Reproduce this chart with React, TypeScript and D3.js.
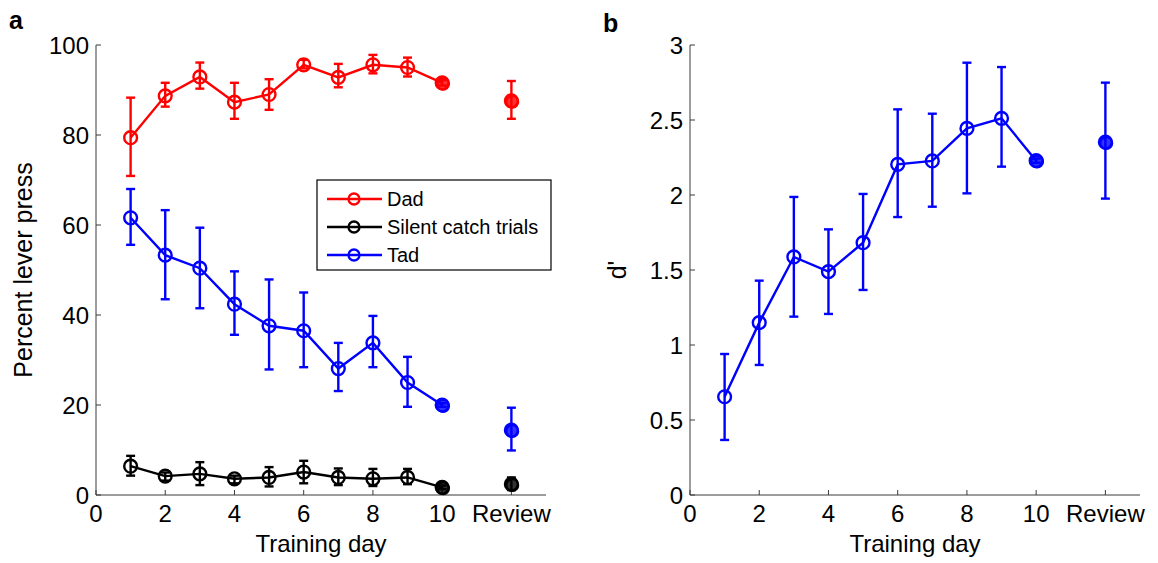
import React from "react";
import * as d3 from "d3";

// ---- data ----
const days = [1, 2, 3, 4, 5, 6, 7, 8, 9, 10];
const reviewX = 12;
const xTicks = [0, 2, 4, 6, 8, 10, 12];
const xTickLabels = ["0", "2", "4", "6", "8", "10", "Review"];
const leftYTicks = [0, 20, 40, 60, 80, 100];
const rightYTicks = [0, 0.5, 1, 1.5, 2, 2.5, 3];
const rightYTickLabels = ["0", "0.5", "1", "1.5", "2", "2.5", "3"];

// Panel a
const dadMean = [79.4, 88.7, 92.9, 87.3, 89.0, 95.6, 92.8, 95.6, 95.0, 91.6];
const dadLo = [70.9, 86.3, 90.3, 83.6, 85.6, 94.8, 90.6, 93.7, 93.0, 91.0];
const dadHi = [88.3, 91.6, 96.1, 91.6, 92.4, 96.7, 95.8, 97.8, 97.2, 92.2];
const dadReview = [87.6, 83.6, 92.0]; // mean, lo, hi

const silentMean = [6.4, 4.2, 4.7, 3.6, 3.9, 5.1, 3.9, 3.6, 3.9, 1.7];
const silentLo = [4.3, 3.2, 2.2, 2.6, 1.9, 2.6, 2.2, 2.0, 2.4, 1.3];
const silentHi = [8.7, 5.0, 7.3, 4.3, 6.2, 7.6, 5.9, 5.8, 5.8, 2.1];
const silentReview = [2.4, 1.1, 3.9];

const tadMean = [61.6, 53.3, 50.4, 42.4, 37.6, 36.5, 28.1, 33.8, 25.0, 20.0];
const tadLo = [55.6, 43.5, 41.5, 35.6, 27.9, 28.4, 23.1, 28.4, 19.6, 19.6];
const tadHi = [68.0, 63.3, 59.4, 49.7, 47.9, 45.0, 33.8, 39.8, 30.7, 20.4];
const tadReview = [14.4, 9.9, 19.4];

// Panel b
const dMean = [0.655, 1.149, 1.587, 1.489, 1.682, 2.204, 2.227, 2.444, 2.511, 2.229];
const dLo = [0.367, 0.867, 1.189, 1.207, 1.367, 1.853, 1.922, 2.011, 2.189, 2.215];
const dHi = [0.94, 1.429, 1.987, 1.771, 2.007, 2.571, 2.542, 2.882, 2.853, 2.243];
const dReview = [2.353, 1.976, 2.749];

const legendNames = ["Dad", "Silent catch trials", "Tad"];
const RED = "#ff0000";
const BLACK = "#000000";
const BLUE = "#0000ff";
const legendColors = [RED, BLACK, BLUE];

const FONT = "'Liberation Sans', Arial, Helvetica, sans-serif";

type Series = {
  mean: number[];
  lo: number[];
  hi: number[];
  review: number[];
  color: string;
};

function SeriesMarks({ s, x, y }: { s: Series; x: d3.ScaleLinear<number, number>; y: d3.ScaleLinear<number, number> }) {
  const line = d3
    .line<number>()
    .x((_, i) => x(days[i]))
    .y((d) => y(d));
  const cap = 4.5;
  const r = 6.4;
  const pts = days.map((d, i) => ({ x: d, m: s.mean[i], lo: s.lo[i], hi: s.hi[i], filled: i === days.length - 1 }));
  pts.push({ x: reviewX, m: s.review[0], lo: s.review[1], hi: s.review[2], filled: true });
  return (
    <g>
      <path d={line(s.mean) || ""} fill="none" stroke={s.color} strokeWidth={2.4} />
      {pts.map((p, i) => (
        <g key={i}>
          <line x1={x(p.x)} x2={x(p.x)} y1={y(p.lo)} y2={y(p.hi)} stroke={s.color} strokeWidth={2.4} />
          <line x1={x(p.x) - cap} x2={x(p.x) + cap} y1={y(p.lo)} y2={y(p.lo)} stroke={s.color} strokeWidth={2.4} />
          <line x1={x(p.x) - cap} x2={x(p.x) + cap} y1={y(p.hi)} y2={y(p.hi)} stroke={s.color} strokeWidth={2.4} />
          {p.filled ? (
            <g>
              <circle cx={x(p.x)} cy={y(p.m)} r={r} fill={s.color} fillOpacity={0.8} stroke={s.color} strokeWidth={2.4} />
              <circle cx={x(p.x) + 1} cy={y(p.m) + 1} r={r - 0.5} fill="none" stroke={s.color} strokeWidth={2} />
            </g>
          ) : (
            <circle cx={x(p.x)} cy={y(p.m)} r={r} fill="none" stroke={s.color} strokeWidth={2.4} />
          )}
        </g>
      ))}
    </g>
  );
}

function Axes({
  x,
  y,
  yTicks,
  yLabels,
  yTitle,
}: {
  x: d3.ScaleLinear<number, number>;
  y: d3.ScaleLinear<number, number>;
  yTicks: number[];
  yLabels: string[];
  yTitle: string;
}) {
  const [x0, x1] = x.range();
  const [y0, y1] = y.range();
  const axisColor = "#3a3a3a";
  const tl = 5;
  return (
    <g fontFamily={FONT} fontSize={24}>
      <line x1={x0} x2={x1} y1={y0} y2={y0} stroke={axisColor} strokeWidth={1} />
      <line x1={x0} x2={x0} y1={y0} y2={y1} stroke={axisColor} strokeWidth={1} />
      {xTicks.map((t, i) => (
        <g key={"x" + i}>
          <line x1={x(t)} x2={x(t)} y1={y0} y2={y0 - tl} stroke={axisColor} strokeWidth={1} />
          <text x={x(t)} y={y0 + 27} textAnchor="middle" fill="#000">
            {xTickLabels[i]}
          </text>
        </g>
      ))}
      {yTicks.map((t, i) => (
        <g key={"y" + i}>
          <line x1={x0} x2={x0 + tl} y1={y(t)} y2={y(t)} stroke={axisColor} strokeWidth={1} />
          <text x={x0 - 7} y={y(t) + 8.5} textAnchor="end" fill="#000">
            {yLabels[i]}
          </text>
        </g>
      ))}
      <text x={(x0 + x1) / 2} y={y0 + 57} textAnchor="middle" fill="#000">
        Training day
      </text>
      <text
        transform={`translate(${x0 - 64},${(y0 + y1) / 2}) rotate(-90)`}
        textAnchor="middle"
        fill="#000"
        fontSize={25}
      >
        {yTitle}
      </text>
    </g>
  );
}

export default function App() {
  const W = 1158;
  const H = 563;
  const xA = d3.scaleLinear().domain([0, 13]).range([96, 546]);
  const yA = d3.scaleLinear().domain([0, 100]).range([495, 45]);
  const xB = d3.scaleLinear().domain([0, 13]).range([690, 1140]);
  const yB = d3.scaleLinear().domain([0, 3]).range([495, 45]);

  const seriesA: Series[] = [
    { mean: dadMean, lo: dadLo, hi: dadHi, review: dadReview, color: RED },
    { mean: silentMean, lo: silentLo, hi: silentHi, review: silentReview, color: BLACK },
    { mean: tadMean, lo: tadLo, hi: tadHi, review: tadReview, color: BLUE },
  ];
  const seriesB: Series = { mean: dMean, lo: dLo, hi: dHi, review: dReview, color: BLUE };

  const legX = 317;
  const legY = 180;
  const legW = 234;
  const legH = 90;
  const rowY = [199, 227, 255];

  return (
    <svg
      width={W}
      height={H}
      viewBox={`0 0 ${W} ${H}`}
      style={{ position: "absolute", left: 0, top: 0, background: "#fff" }}
    >
      <rect x={0} y={0} width={W} height={H} fill="#fff" />
      {/* Panel a */}
      <Axes x={xA} y={yA} yTicks={leftYTicks} yLabels={leftYTicks.map(String)} yTitle="Percent lever press" />
      {seriesA.map((s, i) => (
        <SeriesMarks key={i} s={s} x={xA} y={yA} />
      ))}
      <text x={9} y={29} fontFamily={FONT} fontWeight="bold" fontSize={25}>
        a
      </text>
      {/* Legend */}
      <g fontFamily={FONT} fontSize={20}>
        <rect x={legX} y={legY} width={legW} height={legH} fill="#fff" stroke="#000" strokeWidth={1.2} />
        {legendNames.map((n, i) => (
          <g key={n}>
            <line x1={327} x2={382} y1={rowY[i]} y2={rowY[i]} stroke={legendColors[i]} strokeWidth={2.3} />
            <circle cx={354} cy={rowY[i]} r={5.5} fill="none" stroke={legendColors[i]} strokeWidth={2.3} />
            <text x={387} y={rowY[i] + 7} fill="#000">
              {n}
            </text>
          </g>
        ))}
      </g>
      {/* Panel b */}
      <Axes x={xB} y={yB} yTicks={rightYTicks} yLabels={rightYTickLabels} yTitle="d'" />
      <SeriesMarks s={seriesB} x={xB} y={yB} />
      <text x={603} y={32} fontFamily={FONT} fontWeight="bold" fontSize={25}>
        b
      </text>
    </svg>
  );
}
